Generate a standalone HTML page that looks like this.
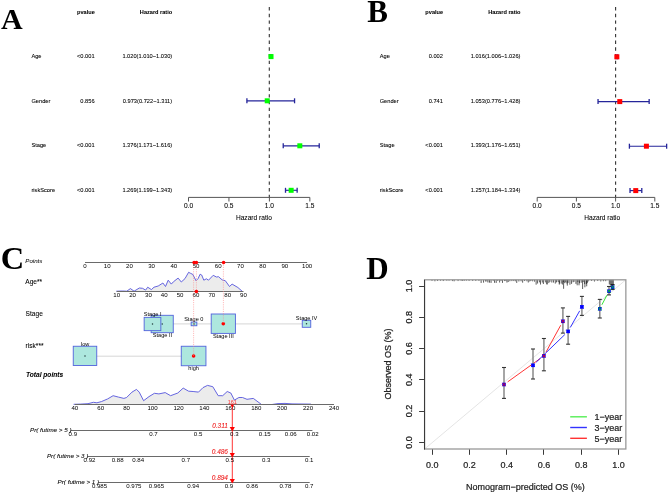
<!DOCTYPE html>
<html><head><meta charset="utf-8"><style>
html,body{margin:0;padding:0;background:#fff;width:668px;height:496px;overflow:hidden;}
svg{display:block;will-change:transform;}
</style></head><body>
<svg width="668" height="496" viewBox="0 0 668 496">
<rect x="0" y="0" width="668" height="496" fill="#fff"/>
<text x="1.00" y="28.80" font-family="Liberation Serif" font-size="30" text-anchor="start" font-weight="bold" font-style="normal" fill="#000">A</text>
<text x="94.80" y="13.70" font-family="Liberation Sans" font-size="5.6" text-anchor="end" font-weight="bold" font-style="normal" fill="#000" stroke="#000" stroke-width="0.050">pvalue</text>
<text x="172.20" y="13.70" font-family="Liberation Sans" font-size="5.6" text-anchor="end" font-weight="bold" font-style="normal" fill="#000" stroke="#000" stroke-width="0.050">Hazard ratio</text>
<line x1="269.30" y1="7.10" x2="269.30" y2="197.40" stroke="#333" stroke-width="1.1" stroke-dasharray="3.35 3.354"/>
<text x="31.40" y="57.70" font-family="Liberation Sans" font-size="5.7" text-anchor="start" font-weight="normal" font-style="normal" fill="#000" stroke="#000" stroke-width="0.070">Age</text>
<text x="94.60" y="57.70" font-family="Liberation Sans" font-size="5.7" text-anchor="end" font-weight="normal" font-style="normal" fill="#000" stroke="#000" stroke-width="0.070">&lt;0.001</text>
<text x="172.20" y="57.70" font-family="Liberation Sans" font-size="5.7" text-anchor="end" font-weight="normal" font-style="normal" fill="#000" stroke="#000" stroke-width="0.070">1.020(1.010−1.030)</text>
<line x1="270.21" y1="56.60" x2="271.83" y2="56.60" stroke="#25259a" stroke-width="1.15"/>
<line x1="270.21" y1="54.10" x2="270.21" y2="59.10" stroke="#25259a" stroke-width="1.3"/>
<line x1="271.83" y1="54.10" x2="271.83" y2="59.10" stroke="#25259a" stroke-width="1.3"/>
<rect x="268.52" y="54.10" width="5.00" height="5.00" fill="#00ff00" stroke="none" stroke-width="0"/>
<text x="31.40" y="102.80" font-family="Liberation Sans" font-size="5.7" text-anchor="start" font-weight="normal" font-style="normal" fill="#000" stroke="#000" stroke-width="0.070">Gender</text>
<text x="94.60" y="102.80" font-family="Liberation Sans" font-size="5.7" text-anchor="end" font-weight="normal" font-style="normal" fill="#000" stroke="#000" stroke-width="0.070">0.856</text>
<text x="172.20" y="102.80" font-family="Liberation Sans" font-size="5.7" text-anchor="end" font-weight="normal" font-style="normal" fill="#000" stroke="#000" stroke-width="0.070">0.973(0.722−1.311)</text>
<line x1="246.91" y1="100.80" x2="294.56" y2="100.80" stroke="#25259a" stroke-width="1.15"/>
<line x1="246.91" y1="98.30" x2="246.91" y2="103.30" stroke="#25259a" stroke-width="1.3"/>
<line x1="294.56" y1="98.30" x2="294.56" y2="103.30" stroke="#25259a" stroke-width="1.3"/>
<rect x="264.72" y="98.30" width="5.00" height="5.00" fill="#00ff00" stroke="none" stroke-width="0"/>
<text x="31.40" y="146.80" font-family="Liberation Sans" font-size="5.7" text-anchor="start" font-weight="normal" font-style="normal" fill="#000" stroke="#000" stroke-width="0.070">Stage</text>
<text x="94.60" y="146.80" font-family="Liberation Sans" font-size="5.7" text-anchor="end" font-weight="normal" font-style="normal" fill="#000" stroke="#000" stroke-width="0.070">&lt;0.001</text>
<text x="172.20" y="146.80" font-family="Liberation Sans" font-size="5.7" text-anchor="end" font-weight="normal" font-style="normal" fill="#000" stroke="#000" stroke-width="0.070">1.376(1.171−1.616)</text>
<line x1="283.23" y1="145.80" x2="319.23" y2="145.80" stroke="#25259a" stroke-width="1.15"/>
<line x1="283.23" y1="143.30" x2="283.23" y2="148.30" stroke="#25259a" stroke-width="1.3"/>
<line x1="319.23" y1="143.30" x2="319.23" y2="148.30" stroke="#25259a" stroke-width="1.3"/>
<rect x="297.32" y="143.30" width="5.00" height="5.00" fill="#00ff00" stroke="none" stroke-width="0"/>
<text x="31.40" y="191.80" font-family="Liberation Sans" font-size="5.7" text-anchor="start" font-weight="normal" font-style="normal" fill="#000" stroke="#000" stroke-width="0.070">riskScore</text>
<text x="94.60" y="191.80" font-family="Liberation Sans" font-size="5.7" text-anchor="end" font-weight="normal" font-style="normal" fill="#000" stroke="#000" stroke-width="0.070">&lt;0.001</text>
<text x="172.20" y="191.80" font-family="Liberation Sans" font-size="5.7" text-anchor="end" font-weight="normal" font-style="normal" fill="#000" stroke="#000" stroke-width="0.070">1.269(1.199−1.343)</text>
<line x1="285.50" y1="190.30" x2="297.15" y2="190.30" stroke="#25259a" stroke-width="1.15"/>
<line x1="285.50" y1="187.80" x2="285.50" y2="192.80" stroke="#25259a" stroke-width="1.3"/>
<line x1="297.15" y1="187.80" x2="297.15" y2="192.80" stroke="#25259a" stroke-width="1.3"/>
<rect x="288.66" y="187.80" width="5.00" height="5.00" fill="#00ff00" stroke="none" stroke-width="0"/>
<line x1="188.50" y1="197.40" x2="309.85" y2="197.40" stroke="#555" stroke-width="1.0"/>
<line x1="188.50" y1="197.40" x2="188.50" y2="201.50" stroke="#555" stroke-width="1.0"/>
<text x="188.50" y="207.90" font-family="Liberation Sans" font-size="6.6" text-anchor="middle" font-weight="normal" font-style="normal" fill="#000" stroke="#000" stroke-width="0.070">0.0</text>
<line x1="228.95" y1="197.40" x2="228.95" y2="201.50" stroke="#555" stroke-width="1.0"/>
<text x="228.95" y="207.90" font-family="Liberation Sans" font-size="6.6" text-anchor="middle" font-weight="normal" font-style="normal" fill="#000" stroke="#000" stroke-width="0.070">0.5</text>
<line x1="269.40" y1="197.40" x2="269.40" y2="201.50" stroke="#555" stroke-width="1.0"/>
<text x="269.40" y="207.90" font-family="Liberation Sans" font-size="6.6" text-anchor="middle" font-weight="normal" font-style="normal" fill="#000" stroke="#000" stroke-width="0.070">1.0</text>
<line x1="309.85" y1="197.40" x2="309.85" y2="201.50" stroke="#555" stroke-width="1.0"/>
<text x="309.85" y="207.90" font-family="Liberation Sans" font-size="6.6" text-anchor="middle" font-weight="normal" font-style="normal" fill="#000" stroke="#000" stroke-width="0.070">1.5</text>
<text x="253.90" y="219.90" font-family="Liberation Sans" font-size="6.6" text-anchor="middle" font-weight="normal" font-style="normal" fill="#000" stroke="#000" stroke-width="0.070">Hazard ratio</text>
<text x="367.30" y="21.50" font-family="Liberation Serif" font-size="31" text-anchor="start" font-weight="bold" font-style="normal" fill="#000">B</text>
<text x="443.10" y="13.70" font-family="Liberation Sans" font-size="5.6" text-anchor="end" font-weight="bold" font-style="normal" fill="#000" stroke="#000" stroke-width="0.050">pvalue</text>
<text x="520.50" y="13.70" font-family="Liberation Sans" font-size="5.6" text-anchor="end" font-weight="bold" font-style="normal" fill="#000" stroke="#000" stroke-width="0.050">Hazard ratio</text>
<line x1="615.60" y1="7.10" x2="615.60" y2="197.40" stroke="#333" stroke-width="1.1" stroke-dasharray="3.35 3.354"/>
<text x="379.70" y="57.70" font-family="Liberation Sans" font-size="5.7" text-anchor="start" font-weight="normal" font-style="normal" fill="#000" stroke="#000" stroke-width="0.070">Age</text>
<text x="442.90" y="57.70" font-family="Liberation Sans" font-size="5.7" text-anchor="end" font-weight="normal" font-style="normal" fill="#000" stroke="#000" stroke-width="0.070">0.002</text>
<text x="520.50" y="57.70" font-family="Liberation Sans" font-size="5.7" text-anchor="end" font-weight="normal" font-style="normal" fill="#000" stroke="#000" stroke-width="0.070">1.016(1.006−1.026)</text>
<line x1="616.07" y1="56.80" x2="617.64" y2="56.80" stroke="#25259a" stroke-width="1.15"/>
<line x1="616.07" y1="54.30" x2="616.07" y2="59.30" stroke="#25259a" stroke-width="1.3"/>
<line x1="617.64" y1="54.30" x2="617.64" y2="59.30" stroke="#25259a" stroke-width="1.3"/>
<rect x="614.35" y="54.30" width="5.00" height="5.00" fill="#ff0000" stroke="none" stroke-width="0"/>
<text x="379.70" y="102.80" font-family="Liberation Sans" font-size="5.7" text-anchor="start" font-weight="normal" font-style="normal" fill="#000" stroke="#000" stroke-width="0.070">Gender</text>
<text x="442.90" y="102.80" font-family="Liberation Sans" font-size="5.7" text-anchor="end" font-weight="normal" font-style="normal" fill="#000" stroke="#000" stroke-width="0.070">0.741</text>
<text x="520.50" y="102.80" font-family="Liberation Sans" font-size="5.7" text-anchor="end" font-weight="normal" font-style="normal" fill="#000" stroke="#000" stroke-width="0.070">1.053(0.776−1.428)</text>
<line x1="598.04" y1="101.60" x2="649.16" y2="101.60" stroke="#25259a" stroke-width="1.15"/>
<line x1="598.04" y1="99.10" x2="598.04" y2="104.10" stroke="#25259a" stroke-width="1.3"/>
<line x1="649.16" y1="99.10" x2="649.16" y2="104.10" stroke="#25259a" stroke-width="1.3"/>
<rect x="617.26" y="99.10" width="5.00" height="5.00" fill="#ff0000" stroke="none" stroke-width="0"/>
<text x="379.70" y="146.80" font-family="Liberation Sans" font-size="5.7" text-anchor="start" font-weight="normal" font-style="normal" fill="#000" stroke="#000" stroke-width="0.070">Stage</text>
<text x="442.90" y="146.80" font-family="Liberation Sans" font-size="5.7" text-anchor="end" font-weight="normal" font-style="normal" fill="#000" stroke="#000" stroke-width="0.070">&lt;0.001</text>
<text x="520.50" y="146.80" font-family="Liberation Sans" font-size="5.7" text-anchor="end" font-weight="normal" font-style="normal" fill="#000" stroke="#000" stroke-width="0.070">1.393(1.176−1.651)</text>
<line x1="629.40" y1="146.20" x2="666.64" y2="146.20" stroke="#25259a" stroke-width="1.15"/>
<line x1="629.40" y1="143.70" x2="629.40" y2="148.70" stroke="#25259a" stroke-width="1.3"/>
<line x1="666.64" y1="143.70" x2="666.64" y2="148.70" stroke="#25259a" stroke-width="1.3"/>
<rect x="643.91" y="143.70" width="5.00" height="5.00" fill="#ff0000" stroke="none" stroke-width="0"/>
<text x="379.70" y="191.80" font-family="Liberation Sans" font-size="5.7" text-anchor="start" font-weight="normal" font-style="normal" fill="#000" stroke="#000" stroke-width="0.070">riskScore</text>
<text x="442.90" y="191.80" font-family="Liberation Sans" font-size="5.7" text-anchor="end" font-weight="normal" font-style="normal" fill="#000" stroke="#000" stroke-width="0.070">&lt;0.001</text>
<text x="520.50" y="191.80" font-family="Liberation Sans" font-size="5.7" text-anchor="end" font-weight="normal" font-style="normal" fill="#000" stroke="#000" stroke-width="0.070">1.257(1.184−1.334)</text>
<line x1="630.03" y1="190.60" x2="641.79" y2="190.60" stroke="#25259a" stroke-width="1.15"/>
<line x1="630.03" y1="188.10" x2="630.03" y2="193.10" stroke="#25259a" stroke-width="1.3"/>
<line x1="641.79" y1="188.10" x2="641.79" y2="193.10" stroke="#25259a" stroke-width="1.3"/>
<rect x="633.25" y="188.10" width="5.00" height="5.00" fill="#ff0000" stroke="none" stroke-width="0"/>
<line x1="537.20" y1="197.40" x2="654.80" y2="197.40" stroke="#555" stroke-width="1.0"/>
<line x1="537.20" y1="197.40" x2="537.20" y2="201.50" stroke="#555" stroke-width="1.0"/>
<text x="537.20" y="207.90" font-family="Liberation Sans" font-size="6.6" text-anchor="middle" font-weight="normal" font-style="normal" fill="#000" stroke="#000" stroke-width="0.070">0.0</text>
<line x1="576.40" y1="197.40" x2="576.40" y2="201.50" stroke="#555" stroke-width="1.0"/>
<text x="576.40" y="207.90" font-family="Liberation Sans" font-size="6.6" text-anchor="middle" font-weight="normal" font-style="normal" fill="#000" stroke="#000" stroke-width="0.070">0.5</text>
<line x1="615.60" y1="197.40" x2="615.60" y2="201.50" stroke="#555" stroke-width="1.0"/>
<text x="615.60" y="207.90" font-family="Liberation Sans" font-size="6.6" text-anchor="middle" font-weight="normal" font-style="normal" fill="#000" stroke="#000" stroke-width="0.070">1.0</text>
<line x1="654.80" y1="197.40" x2="654.80" y2="201.50" stroke="#555" stroke-width="1.0"/>
<text x="654.80" y="207.90" font-family="Liberation Sans" font-size="6.6" text-anchor="middle" font-weight="normal" font-style="normal" fill="#000" stroke="#000" stroke-width="0.070">1.5</text>
<text x="602.20" y="219.90" font-family="Liberation Sans" font-size="6.6" text-anchor="middle" font-weight="normal" font-style="normal" fill="#000" stroke="#000" stroke-width="0.070">Hazard ratio</text>
<text x="0.80" y="269.00" font-family="Liberation Serif" font-size="32.5" text-anchor="start" font-weight="bold" font-style="normal" fill="#000">C</text>
<text x="25.30" y="263.00" font-family="Liberation Sans" font-size="6.15" text-anchor="start" font-weight="normal" font-style="italic" fill="#000" stroke="#000" stroke-width="0.030">Points</text>
<text x="25.30" y="284.00" font-family="Liberation Sans" font-size="6.6" text-anchor="start" font-weight="normal" font-style="normal" fill="#000" stroke="#000" stroke-width="0.070">Age**</text>
<text x="25.60" y="315.50" font-family="Liberation Sans" font-size="6.6" text-anchor="start" font-weight="normal" font-style="normal" fill="#000" stroke="#000" stroke-width="0.070">Stage</text>
<text x="25.60" y="347.80" font-family="Liberation Sans" font-size="6.6" text-anchor="start" font-weight="normal" font-style="normal" fill="#000" stroke="#000" stroke-width="0.070">risk***</text>
<text x="26.00" y="377.20" font-family="Liberation Sans" font-size="6.6" text-anchor="start" font-weight="bold" font-style="italic" fill="#000" stroke="#000" stroke-width="0.070">Total points</text>
<line x1="85.00" y1="262.50" x2="307.10" y2="262.50" stroke="#6a6a6a" stroke-width="1.0"/>
<text x="85.00" y="267.90" font-family="Liberation Sans" font-size="6.1" text-anchor="middle" font-weight="normal" font-style="normal" fill="#000" stroke="#000" stroke-width="0.000">0</text>
<text x="107.21" y="267.90" font-family="Liberation Sans" font-size="6.1" text-anchor="middle" font-weight="normal" font-style="normal" fill="#000" stroke="#000" stroke-width="0.000">10</text>
<text x="129.42" y="267.90" font-family="Liberation Sans" font-size="6.1" text-anchor="middle" font-weight="normal" font-style="normal" fill="#000" stroke="#000" stroke-width="0.000">20</text>
<text x="151.63" y="267.90" font-family="Liberation Sans" font-size="6.1" text-anchor="middle" font-weight="normal" font-style="normal" fill="#000" stroke="#000" stroke-width="0.000">30</text>
<text x="173.84" y="267.90" font-family="Liberation Sans" font-size="6.1" text-anchor="middle" font-weight="normal" font-style="normal" fill="#000" stroke="#000" stroke-width="0.000">40</text>
<text x="196.05" y="267.90" font-family="Liberation Sans" font-size="6.1" text-anchor="middle" font-weight="normal" font-style="normal" fill="#000" stroke="#000" stroke-width="0.000">50</text>
<text x="218.26" y="267.90" font-family="Liberation Sans" font-size="6.1" text-anchor="middle" font-weight="normal" font-style="normal" fill="#000" stroke="#000" stroke-width="0.000">60</text>
<text x="240.47" y="267.90" font-family="Liberation Sans" font-size="6.1" text-anchor="middle" font-weight="normal" font-style="normal" fill="#000" stroke="#000" stroke-width="0.000">70</text>
<text x="262.68" y="267.90" font-family="Liberation Sans" font-size="6.1" text-anchor="middle" font-weight="normal" font-style="normal" fill="#000" stroke="#000" stroke-width="0.000">80</text>
<text x="284.89" y="267.90" font-family="Liberation Sans" font-size="6.1" text-anchor="middle" font-weight="normal" font-style="normal" fill="#000" stroke="#000" stroke-width="0.000">90</text>
<text x="307.10" y="267.90" font-family="Liberation Sans" font-size="6.1" text-anchor="middle" font-weight="normal" font-style="normal" fill="#000" stroke="#000" stroke-width="0.000">100</text>
<polygon points="116.3,291.2 122.6,291.0 126.8,291.2 130.4,288.6 134.1,291.2 139.3,288.0 142.5,288.3 145.6,290.1 147.7,287.2 151.4,289.6 154.0,287.2 158.2,286.0 162.9,283.0 165.5,286.5 168.2,280.2 171.3,284.1 173.4,281.8 178.1,278.1 181.3,282.0 185.0,278.6 188.6,272.3 190.7,273.4 192.8,274.4 196.0,280.7 198.1,278.6 200.1,274.2 201.7,275.0 203.8,280.2 206.4,278.8 208.5,280.2 213.2,275.3 216.4,277.0 218.5,276.7 222.2,279.9 225.3,280.7 229.5,286.5 232.1,284.1 237.9,287.5 242.1,291.2" fill="#ececec" stroke="none"/>
<polyline points="116.3,291.2 122.6,291.0 126.8,291.2 130.4,288.6 134.1,291.2 139.3,288.0 142.5,288.3 145.6,290.1 147.7,287.2 151.4,289.6 154.0,287.2 158.2,286.0 162.9,283.0 165.5,286.5 168.2,280.2 171.3,284.1 173.4,281.8 178.1,278.1 181.3,282.0 185.0,278.6 188.6,272.3 190.7,273.4 192.8,274.4 196.0,280.7 198.1,278.6 200.1,274.2 201.7,275.0 203.8,280.2 206.4,278.8 208.5,280.2 213.2,275.3 216.4,277.0 218.5,276.7 222.2,279.9 225.3,280.7 229.5,286.5 232.1,284.1 237.9,287.5 242.1,291.2" fill="none" stroke="#5555dd" stroke-width="0.9"/>
<line x1="116.70" y1="291.50" x2="243.50" y2="291.50" stroke="#6a6a6a" stroke-width="1.0"/>
<text x="116.70" y="296.50" font-family="Liberation Sans" font-size="6.1" text-anchor="middle" font-weight="normal" font-style="normal" fill="#000" stroke="#000" stroke-width="0.000">10</text>
<text x="132.55" y="296.50" font-family="Liberation Sans" font-size="6.1" text-anchor="middle" font-weight="normal" font-style="normal" fill="#000" stroke="#000" stroke-width="0.000">20</text>
<text x="148.40" y="296.50" font-family="Liberation Sans" font-size="6.1" text-anchor="middle" font-weight="normal" font-style="normal" fill="#000" stroke="#000" stroke-width="0.000">30</text>
<text x="164.25" y="296.50" font-family="Liberation Sans" font-size="6.1" text-anchor="middle" font-weight="normal" font-style="normal" fill="#000" stroke="#000" stroke-width="0.000">40</text>
<text x="180.10" y="296.50" font-family="Liberation Sans" font-size="6.1" text-anchor="middle" font-weight="normal" font-style="normal" fill="#000" stroke="#000" stroke-width="0.000">50</text>
<text x="195.95" y="296.50" font-family="Liberation Sans" font-size="6.1" text-anchor="middle" font-weight="normal" font-style="normal" fill="#000" stroke="#000" stroke-width="0.000">60</text>
<text x="211.80" y="296.50" font-family="Liberation Sans" font-size="6.1" text-anchor="middle" font-weight="normal" font-style="normal" fill="#000" stroke="#000" stroke-width="0.000">70</text>
<text x="227.65" y="296.50" font-family="Liberation Sans" font-size="6.1" text-anchor="middle" font-weight="normal" font-style="normal" fill="#000" stroke="#000" stroke-width="0.000">80</text>
<text x="243.50" y="296.50" font-family="Liberation Sans" font-size="6.1" text-anchor="middle" font-weight="normal" font-style="normal" fill="#000" stroke="#000" stroke-width="0.000">90</text>
<line x1="152.60" y1="323.90" x2="306.50" y2="323.90" stroke="#cccccc" stroke-width="0.8"/>
<rect x="151.15" y="315.30" width="22.10" height="17.40" fill="#ade7de" stroke="#5062dc" stroke-width="0.9"/>
<circle cx="162.20" cy="324.00" r="0.75" fill="#1f3a3a"/>
<rect x="144.15" y="317.35" width="16.70" height="13.30" fill="#ade7de" stroke="#5062dc" stroke-width="0.9"/>
<circle cx="152.50" cy="324.00" r="0.75" fill="#1f3a3a"/>
<rect x="191.15" y="322.05" width="5.70" height="3.70" fill="#ade7de" stroke="#5062dc" stroke-width="0.9"/>
<circle cx="194.00" cy="323.90" r="0.75" fill="#1f3a3a"/>
<rect x="211.20" y="314.00" width="24.20" height="19.40" fill="#ade7de" stroke="#5062dc" stroke-width="0.9"/>
<circle cx="223.30" cy="323.70" r="1.8" fill="#ff0000"/>
<rect x="302.25" y="320.30" width="8.50" height="7.00" fill="#ade7de" stroke="#5062dc" stroke-width="0.9"/>
<circle cx="306.50" cy="323.80" r="0.75" fill="#1f3a3a"/>
<text x="152.70" y="316.30" font-family="Liberation Sans" font-size="5.6" text-anchor="middle" font-weight="normal" font-style="normal" fill="#000" stroke="#000" stroke-width="0.000">Stage I</text>
<text x="162.40" y="336.90" font-family="Liberation Sans" font-size="5.6" text-anchor="middle" font-weight="normal" font-style="normal" fill="#000" stroke="#000" stroke-width="0.000">Stage II</text>
<text x="193.80" y="320.60" font-family="Liberation Sans" font-size="5.6" text-anchor="middle" font-weight="normal" font-style="normal" fill="#000" stroke="#000" stroke-width="0.000">Stage 0</text>
<text x="223.30" y="337.50" font-family="Liberation Sans" font-size="5.6" text-anchor="middle" font-weight="normal" font-style="normal" fill="#000" stroke="#000" stroke-width="0.000">Stage III</text>
<text x="306.60" y="319.60" font-family="Liberation Sans" font-size="5.6" text-anchor="middle" font-weight="normal" font-style="normal" fill="#000" stroke="#000" stroke-width="0.000">Stage IV</text>
<line x1="85.00" y1="356.20" x2="193.60" y2="356.20" stroke="#cccccc" stroke-width="0.8"/>
<rect x="73.25" y="346.25" width="23.50" height="19.30" fill="#ade7de" stroke="#5062dc" stroke-width="0.9"/>
<circle cx="85.00" cy="355.90" r="0.75" fill="#1f3a3a"/>
<rect x="181.25" y="346.25" width="24.70" height="19.50" fill="#ade7de" stroke="#5062dc" stroke-width="0.9"/>
<circle cx="193.60" cy="356.00" r="1.8" fill="#ff0000"/>
<text x="85.20" y="346.00" font-family="Liberation Sans" font-size="5.6" text-anchor="middle" font-weight="normal" font-style="normal" fill="#000" stroke="#000" stroke-width="0.000">low</text>
<text x="193.60" y="369.80" font-family="Liberation Sans" font-size="5.6" text-anchor="middle" font-weight="normal" font-style="normal" fill="#000" stroke="#000" stroke-width="0.000">high</text>
<line x1="193.60" y1="262.50" x2="193.60" y2="356.20" stroke="#ff8080" stroke-width="0.6" stroke-dasharray="1 1.2"/>
<line x1="196.40" y1="262.50" x2="196.40" y2="291.30" stroke="#ff8080" stroke-width="0.6" stroke-dasharray="1 1.2"/>
<line x1="223.40" y1="262.50" x2="223.40" y2="323.80" stroke="#ff8080" stroke-width="0.6" stroke-dasharray="1 1.2"/>
<circle cx="194.10" cy="262.50" r="1.8" fill="#ff0000"/>
<circle cx="196.40" cy="262.50" r="1.8" fill="#ff0000"/>
<circle cx="223.60" cy="262.50" r="1.8" fill="#ff0000"/>
<circle cx="196.4" cy="291.5" r="1.8" fill="#ff0000"/>
<polygon points="73.6,404.3 80.8,404.1 88.0,403.7 93.4,402.3 96.9,402.8 101.4,401.6 107.7,398.9 113.1,395.7 118.5,397.1 123.9,398.4 126.6,397.5 132.0,392.1 136.5,389.4 139.2,392.1 143.6,400.7 149.0,396.6 154.4,393.3 158.9,393.9 165.2,392.6 170.6,395.7 177.8,393.0 183.2,388.1 188.6,391.2 193.1,391.5 198.5,392.1 203.0,387.6 207.5,385.4 212.8,386.7 218.2,395.7 222.7,395.7 227.2,391.5 230.8,393.0 234.4,400.1 238.9,397.5 242.5,397.5 247.0,399.3 253.3,398.4 261.5,404.5 272.0,404.5 278.0,403.6 285.0,403.4 292.0,403.9 310.5,404.1 311.0,404.5" fill="#ececec" stroke="none"/>
<polyline points="73.6,404.3 80.8,404.1 88.0,403.7 93.4,402.3 96.9,402.8 101.4,401.6 107.7,398.9 113.1,395.7 118.5,397.1 123.9,398.4 126.6,397.5 132.0,392.1 136.5,389.4 139.2,392.1 143.6,400.7 149.0,396.6 154.4,393.3 158.9,393.9 165.2,392.6 170.6,395.7 177.8,393.0 183.2,388.1 188.6,391.2 193.1,391.5 198.5,392.1 203.0,387.6 207.5,385.4 212.8,386.7 218.2,395.7 222.7,395.7 227.2,391.5 230.8,393.0 234.4,400.1 238.9,397.5 242.5,397.5 247.0,399.3 253.3,398.4 261.5,404.5 272.0,404.5 278.0,403.6 285.0,403.4 292.0,403.9 310.5,404.1 311.0,404.5" fill="none" stroke="#5555dd" stroke-width="0.9"/>
<line x1="74.80" y1="404.50" x2="334.00" y2="404.50" stroke="#6a6a6a" stroke-width="1.0"/>
<text x="74.80" y="409.60" font-family="Liberation Sans" font-size="6.1" text-anchor="middle" font-weight="normal" font-style="normal" fill="#000" stroke="#000" stroke-width="0.000">40</text>
<text x="100.72" y="409.60" font-family="Liberation Sans" font-size="6.1" text-anchor="middle" font-weight="normal" font-style="normal" fill="#000" stroke="#000" stroke-width="0.000">60</text>
<text x="126.64" y="409.60" font-family="Liberation Sans" font-size="6.1" text-anchor="middle" font-weight="normal" font-style="normal" fill="#000" stroke="#000" stroke-width="0.000">80</text>
<text x="152.56" y="409.60" font-family="Liberation Sans" font-size="6.1" text-anchor="middle" font-weight="normal" font-style="normal" fill="#000" stroke="#000" stroke-width="0.000">100</text>
<text x="178.48" y="409.60" font-family="Liberation Sans" font-size="6.1" text-anchor="middle" font-weight="normal" font-style="normal" fill="#000" stroke="#000" stroke-width="0.000">120</text>
<text x="204.40" y="409.60" font-family="Liberation Sans" font-size="6.1" text-anchor="middle" font-weight="normal" font-style="normal" fill="#000" stroke="#000" stroke-width="0.000">140</text>
<text x="230.32" y="409.60" font-family="Liberation Sans" font-size="6.1" text-anchor="middle" font-weight="normal" font-style="normal" fill="#000" stroke="#000" stroke-width="0.000">160</text>
<text x="256.24" y="409.60" font-family="Liberation Sans" font-size="6.1" text-anchor="middle" font-weight="normal" font-style="normal" fill="#000" stroke="#000" stroke-width="0.000">180</text>
<text x="282.16" y="409.60" font-family="Liberation Sans" font-size="6.1" text-anchor="middle" font-weight="normal" font-style="normal" fill="#000" stroke="#000" stroke-width="0.000">200</text>
<text x="308.08" y="409.60" font-family="Liberation Sans" font-size="6.1" text-anchor="middle" font-weight="normal" font-style="normal" fill="#000" stroke="#000" stroke-width="0.000">220</text>
<text x="334.00" y="409.60" font-family="Liberation Sans" font-size="6.1" text-anchor="middle" font-weight="normal" font-style="normal" fill="#000" stroke="#000" stroke-width="0.000">240</text>
<line x1="232.30" y1="405.00" x2="232.30" y2="482.20" stroke="#ff0000" stroke-width="0.8"/>
<text x="232.30" y="403.60" font-family="Liberation Sans" font-size="5.6" text-anchor="middle" font-weight="normal" font-style="normal" fill="#ff3333" stroke="#ff3333" stroke-width="0.000">161</text>
<polygon points="230.30,404.50 234.30,404.50 232.30,407.70" fill="#ff0000"/>
<line x1="70.90" y1="430.50" x2="312.40" y2="430.50" stroke="#6a6a6a" stroke-width="1.0"/>
<text x="71.50" y="432.20" font-family="Liberation Sans" font-size="6.25" text-anchor="end" font-weight="normal" font-style="italic" fill="#000" stroke="#000" stroke-width="0.070">Pr( futime &gt; 5 )</text>
<text x="72.80" y="435.80" font-family="Liberation Sans" font-size="6.1" text-anchor="middle" font-weight="normal" font-style="normal" fill="#000" stroke="#000" stroke-width="0.000">0.9</text>
<text x="153.40" y="435.80" font-family="Liberation Sans" font-size="6.1" text-anchor="middle" font-weight="normal" font-style="normal" fill="#000" stroke="#000" stroke-width="0.000">0.7</text>
<text x="198.10" y="435.80" font-family="Liberation Sans" font-size="6.1" text-anchor="middle" font-weight="normal" font-style="normal" fill="#000" stroke="#000" stroke-width="0.000">0.5</text>
<text x="234.30" y="435.80" font-family="Liberation Sans" font-size="6.1" text-anchor="middle" font-weight="normal" font-style="normal" fill="#000" stroke="#000" stroke-width="0.000">0.3</text>
<text x="264.80" y="435.80" font-family="Liberation Sans" font-size="6.1" text-anchor="middle" font-weight="normal" font-style="normal" fill="#000" stroke="#000" stroke-width="0.000">0.15</text>
<text x="290.80" y="435.80" font-family="Liberation Sans" font-size="6.1" text-anchor="middle" font-weight="normal" font-style="normal" fill="#000" stroke="#000" stroke-width="0.000">0.06</text>
<text x="312.70" y="435.80" font-family="Liberation Sans" font-size="6.1" text-anchor="middle" font-weight="normal" font-style="normal" fill="#000" stroke="#000" stroke-width="0.000">0.02</text>
<polygon points="229.70,427.10 234.90,427.10 232.30,431.50" fill="#ff0000"/>
<text x="228.00" y="427.70" font-family="Liberation Sans" font-size="6.5" text-anchor="end" font-weight="normal" font-style="italic" fill="#ee1111" stroke="#ee1111" stroke-width="0.070">0.311</text>
<line x1="87.80" y1="456.50" x2="309.70" y2="456.50" stroke="#6a6a6a" stroke-width="1.0"/>
<text x="88.40" y="458.20" font-family="Liberation Sans" font-size="6.25" text-anchor="end" font-weight="normal" font-style="italic" fill="#000" stroke="#000" stroke-width="0.070">Pr( futime &gt; 3 )</text>
<text x="89.50" y="461.80" font-family="Liberation Sans" font-size="6.1" text-anchor="middle" font-weight="normal" font-style="normal" fill="#000" stroke="#000" stroke-width="0.000">0.92</text>
<text x="117.60" y="461.80" font-family="Liberation Sans" font-size="6.1" text-anchor="middle" font-weight="normal" font-style="normal" fill="#000" stroke="#000" stroke-width="0.000">0.88</text>
<text x="138.10" y="461.80" font-family="Liberation Sans" font-size="6.1" text-anchor="middle" font-weight="normal" font-style="normal" fill="#000" stroke="#000" stroke-width="0.000">0.84</text>
<text x="185.80" y="461.80" font-family="Liberation Sans" font-size="6.1" text-anchor="middle" font-weight="normal" font-style="normal" fill="#000" stroke="#000" stroke-width="0.000">0.7</text>
<text x="229.80" y="461.80" font-family="Liberation Sans" font-size="6.1" text-anchor="middle" font-weight="normal" font-style="normal" fill="#000" stroke="#000" stroke-width="0.000">0.5</text>
<text x="266.20" y="461.80" font-family="Liberation Sans" font-size="6.1" text-anchor="middle" font-weight="normal" font-style="normal" fill="#000" stroke="#000" stroke-width="0.000">0.3</text>
<text x="309.20" y="461.80" font-family="Liberation Sans" font-size="6.1" text-anchor="middle" font-weight="normal" font-style="normal" fill="#000" stroke="#000" stroke-width="0.000">0.1</text>
<polygon points="229.70,453.10 234.90,453.10 232.30,457.50" fill="#ff0000"/>
<text x="228.00" y="453.70" font-family="Liberation Sans" font-size="6.5" text-anchor="end" font-weight="normal" font-style="italic" fill="#ee1111" stroke="#ee1111" stroke-width="0.070">0.486</text>
<line x1="98.50" y1="482.50" x2="309.70" y2="482.50" stroke="#6a6a6a" stroke-width="1.0"/>
<text x="99.10" y="484.20" font-family="Liberation Sans" font-size="6.25" text-anchor="end" font-weight="normal" font-style="italic" fill="#000" stroke="#000" stroke-width="0.070">Pr( futime &gt; 1 )</text>
<text x="99.50" y="487.80" font-family="Liberation Sans" font-size="6.1" text-anchor="middle" font-weight="normal" font-style="normal" fill="#000" stroke="#000" stroke-width="0.000">0.985</text>
<text x="133.80" y="487.80" font-family="Liberation Sans" font-size="6.1" text-anchor="middle" font-weight="normal" font-style="normal" fill="#000" stroke="#000" stroke-width="0.000">0.975</text>
<text x="156.40" y="487.80" font-family="Liberation Sans" font-size="6.1" text-anchor="middle" font-weight="normal" font-style="normal" fill="#000" stroke="#000" stroke-width="0.000">0.965</text>
<text x="193.20" y="487.80" font-family="Liberation Sans" font-size="6.1" text-anchor="middle" font-weight="normal" font-style="normal" fill="#000" stroke="#000" stroke-width="0.000">0.94</text>
<text x="228.90" y="487.80" font-family="Liberation Sans" font-size="6.1" text-anchor="middle" font-weight="normal" font-style="normal" fill="#000" stroke="#000" stroke-width="0.000">0.9</text>
<text x="252.20" y="487.80" font-family="Liberation Sans" font-size="6.1" text-anchor="middle" font-weight="normal" font-style="normal" fill="#000" stroke="#000" stroke-width="0.000">0.86</text>
<text x="285.40" y="487.80" font-family="Liberation Sans" font-size="6.1" text-anchor="middle" font-weight="normal" font-style="normal" fill="#000" stroke="#000" stroke-width="0.000">0.78</text>
<text x="309.20" y="487.80" font-family="Liberation Sans" font-size="6.1" text-anchor="middle" font-weight="normal" font-style="normal" fill="#000" stroke="#000" stroke-width="0.000">0.7</text>
<polygon points="229.70,479.10 234.90,479.10 232.30,483.50" fill="#ff0000"/>
<text x="228.00" y="479.70" font-family="Liberation Sans" font-size="6.5" text-anchor="end" font-weight="normal" font-style="italic" fill="#ee1111" stroke="#ee1111" stroke-width="0.070">0.894</text>
<text x="366.30" y="278.50" font-family="Liberation Serif" font-size="31" text-anchor="start" font-weight="bold" font-style="normal" fill="#000">D</text>
<line x1="424.60" y1="449.00" x2="625.85" y2="279.80" stroke="#dddddd" stroke-width="0.8"/>
<line x1="419.10" y1="442.50" x2="424.60" y2="442.50" stroke="#3a3a3a" stroke-width="1.0"/>
<text x="0" y="0" transform="translate(412.2,442.40) rotate(-90)" font-family="Liberation Sans" font-size="9.0" text-anchor="middle" fill="#222" stroke="#222" stroke-width="0.25">0.0</text>
<line x1="432.50" y1="449.00" x2="432.50" y2="454.80" stroke="#3a3a3a" stroke-width="1.0"/>
<text x="432.20" y="468.30" font-family="Liberation Sans" font-size="9.0" text-anchor="middle" font-weight="normal" font-style="normal" fill="#222" stroke="#222" stroke-width="0.216">0.0</text>
<line x1="419.10" y1="411.50" x2="424.60" y2="411.50" stroke="#3a3a3a" stroke-width="1.0"/>
<text x="0" y="0" transform="translate(412.2,411.12) rotate(-90)" font-family="Liberation Sans" font-size="9.0" text-anchor="middle" fill="#222" stroke="#222" stroke-width="0.25">0.2</text>
<line x1="469.50" y1="449.00" x2="469.50" y2="454.80" stroke="#3a3a3a" stroke-width="1.0"/>
<text x="469.44" y="468.30" font-family="Liberation Sans" font-size="9.0" text-anchor="middle" font-weight="normal" font-style="normal" fill="#222" stroke="#222" stroke-width="0.216">0.2</text>
<line x1="419.10" y1="379.50" x2="424.60" y2="379.50" stroke="#3a3a3a" stroke-width="1.0"/>
<text x="0" y="0" transform="translate(412.2,379.84) rotate(-90)" font-family="Liberation Sans" font-size="9.0" text-anchor="middle" fill="#222" stroke="#222" stroke-width="0.25">0.4</text>
<line x1="506.50" y1="449.00" x2="506.50" y2="454.80" stroke="#3a3a3a" stroke-width="1.0"/>
<text x="506.68" y="468.30" font-family="Liberation Sans" font-size="9.0" text-anchor="middle" font-weight="normal" font-style="normal" fill="#222" stroke="#222" stroke-width="0.216">0.4</text>
<line x1="419.10" y1="348.50" x2="424.60" y2="348.50" stroke="#3a3a3a" stroke-width="1.0"/>
<text x="0" y="0" transform="translate(412.2,348.56) rotate(-90)" font-family="Liberation Sans" font-size="9.0" text-anchor="middle" fill="#222" stroke="#222" stroke-width="0.25">0.6</text>
<line x1="543.50" y1="449.00" x2="543.50" y2="454.80" stroke="#3a3a3a" stroke-width="1.0"/>
<text x="543.92" y="468.30" font-family="Liberation Sans" font-size="9.0" text-anchor="middle" font-weight="normal" font-style="normal" fill="#222" stroke="#222" stroke-width="0.216">0.6</text>
<line x1="419.10" y1="317.50" x2="424.60" y2="317.50" stroke="#3a3a3a" stroke-width="1.0"/>
<text x="0" y="0" transform="translate(412.2,317.28) rotate(-90)" font-family="Liberation Sans" font-size="9.0" text-anchor="middle" fill="#222" stroke="#222" stroke-width="0.25">0.8</text>
<line x1="581.50" y1="449.00" x2="581.50" y2="454.80" stroke="#3a3a3a" stroke-width="1.0"/>
<text x="581.16" y="468.30" font-family="Liberation Sans" font-size="9.0" text-anchor="middle" font-weight="normal" font-style="normal" fill="#222" stroke="#222" stroke-width="0.216">0.8</text>
<line x1="419.10" y1="286.50" x2="424.60" y2="286.50" stroke="#3a3a3a" stroke-width="1.0"/>
<text x="0" y="0" transform="translate(412.2,286.00) rotate(-90)" font-family="Liberation Sans" font-size="9.0" text-anchor="middle" fill="#222" stroke="#222" stroke-width="0.25">1.0</text>
<line x1="618.50" y1="449.00" x2="618.50" y2="454.80" stroke="#3a3a3a" stroke-width="1.0"/>
<text x="618.40" y="468.30" font-family="Liberation Sans" font-size="9.0" text-anchor="middle" font-weight="normal" font-style="normal" fill="#222" stroke="#222" stroke-width="0.216">1.0</text>
<text x="0" y="0" transform="translate(391.2,364) rotate(-90)" font-family="Liberation Sans" font-size="9.0" text-anchor="middle" fill="#222" stroke="#222" stroke-width="0.25">Observed OS (%)</text>
<text x="525.30" y="489.60" font-family="Liberation Sans" font-size="9.0" text-anchor="middle" font-weight="normal" font-style="normal" fill="#222" stroke="#222" stroke-width="0.216">Nomogram−predicted OS (%)</text>
<line x1="507.66" y1="381.88" x2="540.24" y2="358.52" stroke="#ff0000" stroke-width="0.8"/>
<line x1="546.07" y1="351.96" x2="560.73" y2="325.24" stroke="#ff0000" stroke-width="0.8"/>
<line x1="536.24" y1="362.17" x2="564.86" y2="334.53" stroke="#0000ff" stroke-width="0.8"/>
<line x1="570.31" y1="327.48" x2="579.69" y2="310.82" stroke="#0000ff" stroke-width="0.8"/>
<line x1="601.88" y1="304.81" x2="606.92" y2="295.19" stroke="#00dd00" stroke-width="0.8"/>
<line x1="504.00" y1="367.50" x2="504.00" y2="398.40" stroke="#808080" stroke-width="1.4"/>
<line x1="502.00" y1="367.50" x2="506.00" y2="367.50" stroke="#333" stroke-width="1.1"/>
<line x1="502.00" y1="398.40" x2="506.00" y2="398.40" stroke="#333" stroke-width="1.1"/>
<line x1="543.90" y1="338.50" x2="543.90" y2="370.80" stroke="#808080" stroke-width="1.4"/>
<line x1="541.90" y1="338.50" x2="545.90" y2="338.50" stroke="#333" stroke-width="1.1"/>
<line x1="541.90" y1="370.80" x2="545.90" y2="370.80" stroke="#333" stroke-width="1.1"/>
<line x1="562.90" y1="307.90" x2="562.90" y2="333.10" stroke="#808080" stroke-width="1.4"/>
<line x1="560.90" y1="307.90" x2="564.90" y2="307.90" stroke="#333" stroke-width="1.1"/>
<line x1="560.90" y1="333.10" x2="564.90" y2="333.10" stroke="#333" stroke-width="1.1"/>
<line x1="533.00" y1="349.00" x2="533.00" y2="379.00" stroke="#808080" stroke-width="1.4"/>
<line x1="531.00" y1="349.00" x2="535.00" y2="349.00" stroke="#333" stroke-width="1.1"/>
<line x1="531.00" y1="379.00" x2="535.00" y2="379.00" stroke="#333" stroke-width="1.1"/>
<line x1="568.10" y1="316.40" x2="568.10" y2="344.20" stroke="#808080" stroke-width="1.4"/>
<line x1="566.10" y1="316.40" x2="570.10" y2="316.40" stroke="#333" stroke-width="1.1"/>
<line x1="566.10" y1="344.20" x2="570.10" y2="344.20" stroke="#333" stroke-width="1.1"/>
<line x1="581.90" y1="296.40" x2="581.90" y2="315.40" stroke="#808080" stroke-width="1.4"/>
<line x1="579.90" y1="296.40" x2="583.90" y2="296.40" stroke="#333" stroke-width="1.1"/>
<line x1="579.90" y1="315.40" x2="583.90" y2="315.40" stroke="#333" stroke-width="1.1"/>
<line x1="599.80" y1="299.40" x2="599.80" y2="318.00" stroke="#808080" stroke-width="1.4"/>
<line x1="597.80" y1="299.40" x2="601.80" y2="299.40" stroke="#333" stroke-width="1.1"/>
<line x1="597.80" y1="318.00" x2="601.80" y2="318.00" stroke="#333" stroke-width="1.1"/>
<line x1="609.00" y1="286.50" x2="609.00" y2="294.90" stroke="#808080" stroke-width="1.4"/>
<line x1="607.00" y1="286.50" x2="611.00" y2="286.50" stroke="#333" stroke-width="1.1"/>
<line x1="607.00" y1="294.90" x2="611.00" y2="294.90" stroke="#333" stroke-width="1.1"/>
<line x1="612.60" y1="284.50" x2="612.60" y2="289.50" stroke="#808080" stroke-width="1.4"/>
<line x1="610.60" y1="284.50" x2="614.60" y2="284.50" stroke="#333" stroke-width="1.1"/>
<line x1="610.60" y1="289.50" x2="614.60" y2="289.50" stroke="#333" stroke-width="1.1"/>
<rect x="502.20" y="382.70" width="3.60" height="3.60" fill="#0000ff" stroke="none" stroke-width="0"/>
<line x1="502.40" y1="382.90" x2="505.60" y2="386.10" stroke="#ff0000" stroke-width="0.8"/>
<line x1="502.40" y1="386.10" x2="505.60" y2="382.90" stroke="#ff0000" stroke-width="0.8"/>
<rect x="542.10" y="354.10" width="3.60" height="3.60" fill="#0000ff" stroke="none" stroke-width="0"/>
<line x1="542.30" y1="354.30" x2="545.50" y2="357.50" stroke="#ff0000" stroke-width="0.8"/>
<line x1="542.30" y1="357.50" x2="545.50" y2="354.30" stroke="#ff0000" stroke-width="0.8"/>
<rect x="561.10" y="319.50" width="3.60" height="3.60" fill="#0000ff" stroke="none" stroke-width="0"/>
<line x1="561.30" y1="319.70" x2="564.50" y2="322.90" stroke="#ff0000" stroke-width="0.8"/>
<line x1="561.30" y1="322.90" x2="564.50" y2="319.70" stroke="#ff0000" stroke-width="0.8"/>
<rect x="531.20" y="363.50" width="3.60" height="3.60" fill="#0000ff" stroke="none" stroke-width="0"/>
<line x1="531.40" y1="363.70" x2="534.60" y2="366.90" stroke="#0000ff" stroke-width="0.8"/>
<line x1="531.40" y1="366.90" x2="534.60" y2="363.70" stroke="#0000ff" stroke-width="0.8"/>
<rect x="566.30" y="329.60" width="3.60" height="3.60" fill="#0000ff" stroke="none" stroke-width="0"/>
<line x1="566.50" y1="329.80" x2="569.70" y2="333.00" stroke="#0000ff" stroke-width="0.8"/>
<line x1="566.50" y1="333.00" x2="569.70" y2="329.80" stroke="#0000ff" stroke-width="0.8"/>
<rect x="580.10" y="305.10" width="3.60" height="3.60" fill="#0000ff" stroke="none" stroke-width="0"/>
<line x1="580.30" y1="305.30" x2="583.50" y2="308.50" stroke="#0000ff" stroke-width="0.8"/>
<line x1="580.30" y1="308.50" x2="583.50" y2="305.30" stroke="#0000ff" stroke-width="0.8"/>
<rect x="598.00" y="307.00" width="3.60" height="3.60" fill="#0000ff" stroke="none" stroke-width="0"/>
<line x1="598.20" y1="307.20" x2="601.40" y2="310.40" stroke="#00dd00" stroke-width="0.8"/>
<line x1="598.20" y1="310.40" x2="601.40" y2="307.20" stroke="#00dd00" stroke-width="0.8"/>
<rect x="607.20" y="289.40" width="3.60" height="3.60" fill="#0000ff" stroke="none" stroke-width="0"/>
<line x1="607.40" y1="289.60" x2="610.60" y2="292.80" stroke="#00dd00" stroke-width="0.8"/>
<line x1="607.40" y1="292.80" x2="610.60" y2="289.60" stroke="#00dd00" stroke-width="0.8"/>
<rect x="610.80" y="285.40" width="3.60" height="3.60" fill="#0000ff" stroke="none" stroke-width="0"/>
<line x1="611.00" y1="285.60" x2="614.20" y2="288.80" stroke="#00dd00" stroke-width="0.8"/>
<line x1="611.00" y1="288.80" x2="614.20" y2="285.60" stroke="#00dd00" stroke-width="0.8"/>
<line x1="432.00" y1="279.80" x2="432.00" y2="280.92" stroke="#1a1a1a" stroke-width="0.7"/>
<line x1="434.90" y1="279.80" x2="434.90" y2="281.25" stroke="#1a1a1a" stroke-width="0.7"/>
<line x1="437.56" y1="279.80" x2="437.56" y2="280.96" stroke="#1a1a1a" stroke-width="0.7"/>
<line x1="440.53" y1="279.80" x2="440.53" y2="280.73" stroke="#1a1a1a" stroke-width="0.7"/>
<line x1="443.31" y1="279.80" x2="443.31" y2="281.04" stroke="#1a1a1a" stroke-width="0.7"/>
<line x1="446.79" y1="279.80" x2="446.79" y2="280.67" stroke="#1a1a1a" stroke-width="0.7"/>
<line x1="449.05" y1="279.80" x2="449.05" y2="280.66" stroke="#1a1a1a" stroke-width="0.7"/>
<line x1="452.58" y1="279.80" x2="452.58" y2="281.09" stroke="#1a1a1a" stroke-width="0.7"/>
<line x1="454.18" y1="279.80" x2="454.18" y2="281.29" stroke="#1a1a1a" stroke-width="0.7"/>
<line x1="458.09" y1="279.80" x2="458.09" y2="281.06" stroke="#1a1a1a" stroke-width="0.7"/>
<line x1="461.13" y1="279.80" x2="461.13" y2="280.71" stroke="#1a1a1a" stroke-width="0.7"/>
<line x1="462.67" y1="279.80" x2="462.67" y2="280.97" stroke="#1a1a1a" stroke-width="0.7"/>
<line x1="464.32" y1="279.80" x2="464.32" y2="280.73" stroke="#1a1a1a" stroke-width="0.7"/>
<line x1="466.42" y1="279.80" x2="466.42" y2="280.62" stroke="#1a1a1a" stroke-width="0.7"/>
<line x1="469.08" y1="279.80" x2="469.08" y2="280.91" stroke="#1a1a1a" stroke-width="0.7"/>
<line x1="472.69" y1="279.80" x2="472.69" y2="280.96" stroke="#1a1a1a" stroke-width="0.7"/>
<line x1="475.79" y1="279.80" x2="475.79" y2="280.95" stroke="#1a1a1a" stroke-width="0.7"/>
<line x1="478.95" y1="279.80" x2="478.95" y2="280.92" stroke="#1a1a1a" stroke-width="0.7"/>
<line x1="481.14" y1="279.80" x2="481.14" y2="282.99" stroke="#1a1a1a" stroke-width="0.7"/>
<line x1="483.54" y1="279.80" x2="483.54" y2="282.65" stroke="#1a1a1a" stroke-width="0.7"/>
<line x1="485.53" y1="279.80" x2="485.53" y2="281.49" stroke="#1a1a1a" stroke-width="0.7"/>
<line x1="486.85" y1="279.80" x2="486.85" y2="281.44" stroke="#1a1a1a" stroke-width="0.7"/>
<line x1="487.95" y1="279.80" x2="487.95" y2="282.49" stroke="#1a1a1a" stroke-width="0.7"/>
<line x1="489.51" y1="279.80" x2="489.51" y2="282.66" stroke="#1a1a1a" stroke-width="0.7"/>
<line x1="491.05" y1="279.80" x2="491.05" y2="282.91" stroke="#1a1a1a" stroke-width="0.7"/>
<line x1="493.23" y1="279.80" x2="493.23" y2="280.80" stroke="#1a1a1a" stroke-width="0.7"/>
<line x1="494.53" y1="279.80" x2="494.53" y2="282.80" stroke="#1a1a1a" stroke-width="0.7"/>
<line x1="496.19" y1="279.80" x2="496.19" y2="282.96" stroke="#1a1a1a" stroke-width="0.7"/>
<line x1="497.74" y1="279.80" x2="497.74" y2="280.96" stroke="#1a1a1a" stroke-width="0.7"/>
<line x1="499.62" y1="279.80" x2="499.62" y2="282.51" stroke="#1a1a1a" stroke-width="0.7"/>
<line x1="501.00" y1="279.80" x2="501.00" y2="280.99" stroke="#1a1a1a" stroke-width="0.7"/>
<line x1="502.47" y1="279.80" x2="502.47" y2="282.92" stroke="#1a1a1a" stroke-width="0.7"/>
<line x1="504.53" y1="279.80" x2="504.53" y2="281.06" stroke="#1a1a1a" stroke-width="0.7"/>
<line x1="505.87" y1="279.80" x2="505.87" y2="281.02" stroke="#1a1a1a" stroke-width="0.7"/>
<line x1="506.96" y1="279.80" x2="506.96" y2="282.55" stroke="#1a1a1a" stroke-width="0.7"/>
<line x1="508.21" y1="279.80" x2="508.21" y2="282.03" stroke="#1a1a1a" stroke-width="0.7"/>
<line x1="509.83" y1="279.80" x2="509.83" y2="281.22" stroke="#1a1a1a" stroke-width="0.7"/>
<line x1="511.86" y1="279.80" x2="511.86" y2="281.09" stroke="#1a1a1a" stroke-width="0.7"/>
<line x1="513.76" y1="279.80" x2="513.76" y2="281.06" stroke="#1a1a1a" stroke-width="0.7"/>
<line x1="515.35" y1="279.80" x2="515.35" y2="281.27" stroke="#1a1a1a" stroke-width="0.7"/>
<line x1="516.72" y1="279.80" x2="516.72" y2="282.94" stroke="#1a1a1a" stroke-width="0.7"/>
<line x1="518.85" y1="279.80" x2="518.85" y2="281.47" stroke="#1a1a1a" stroke-width="0.7"/>
<line x1="521.09" y1="279.80" x2="521.09" y2="281.26" stroke="#1a1a1a" stroke-width="0.7"/>
<line x1="522.64" y1="279.80" x2="522.64" y2="282.68" stroke="#1a1a1a" stroke-width="0.7"/>
<line x1="524.54" y1="279.80" x2="524.54" y2="281.02" stroke="#1a1a1a" stroke-width="0.7"/>
<line x1="526.92" y1="279.80" x2="526.92" y2="281.27" stroke="#1a1a1a" stroke-width="0.7"/>
<line x1="528.29" y1="279.80" x2="528.29" y2="282.50" stroke="#1a1a1a" stroke-width="0.7"/>
<line x1="529.75" y1="279.80" x2="529.75" y2="281.45" stroke="#1a1a1a" stroke-width="0.7"/>
<line x1="530.85" y1="279.80" x2="530.85" y2="281.00" stroke="#1a1a1a" stroke-width="0.7"/>
<line x1="532.66" y1="279.80" x2="532.66" y2="281.33" stroke="#1a1a1a" stroke-width="0.7"/>
<line x1="534.51" y1="279.80" x2="534.51" y2="281.62" stroke="#1a1a1a" stroke-width="0.7"/>
<line x1="536.14" y1="279.80" x2="536.14" y2="284.68" stroke="#1a1a1a" stroke-width="0.7"/>
<line x1="537.57" y1="279.80" x2="537.57" y2="283.52" stroke="#1a1a1a" stroke-width="0.7"/>
<line x1="539.43" y1="279.80" x2="539.43" y2="282.35" stroke="#1a1a1a" stroke-width="0.7"/>
<line x1="540.50" y1="279.80" x2="540.50" y2="284.53" stroke="#1a1a1a" stroke-width="0.7"/>
<line x1="542.30" y1="279.80" x2="542.30" y2="282.55" stroke="#1a1a1a" stroke-width="0.7"/>
<line x1="543.40" y1="279.80" x2="543.40" y2="284.02" stroke="#1a1a1a" stroke-width="0.7"/>
<line x1="545.34" y1="279.80" x2="545.34" y2="282.39" stroke="#1a1a1a" stroke-width="0.7"/>
<line x1="547.28" y1="279.80" x2="547.28" y2="284.45" stroke="#1a1a1a" stroke-width="0.7"/>
<line x1="548.85" y1="279.80" x2="548.85" y2="283.06" stroke="#1a1a1a" stroke-width="0.7"/>
<line x1="549.86" y1="279.80" x2="549.86" y2="281.92" stroke="#1a1a1a" stroke-width="0.7"/>
<line x1="551.82" y1="279.80" x2="551.82" y2="282.52" stroke="#1a1a1a" stroke-width="0.7"/>
<line x1="553.50" y1="279.80" x2="553.50" y2="282.57" stroke="#1a1a1a" stroke-width="0.7"/>
<line x1="555.30" y1="279.80" x2="555.30" y2="283.59" stroke="#1a1a1a" stroke-width="0.7"/>
<line x1="556.52" y1="279.80" x2="556.52" y2="282.33" stroke="#1a1a1a" stroke-width="0.7"/>
<line x1="558.22" y1="279.80" x2="558.22" y2="282.01" stroke="#1a1a1a" stroke-width="0.7"/>
<line x1="559.37" y1="279.80" x2="559.37" y2="283.48" stroke="#1a1a1a" stroke-width="0.7"/>
<line x1="561.21" y1="279.80" x2="561.21" y2="283.64" stroke="#1a1a1a" stroke-width="0.7"/>
<line x1="562.41" y1="279.80" x2="562.41" y2="284.55" stroke="#1a1a1a" stroke-width="0.7"/>
<line x1="563.54" y1="279.80" x2="563.54" y2="281.85" stroke="#1a1a1a" stroke-width="0.7"/>
<line x1="564.73" y1="279.80" x2="564.73" y2="283.14" stroke="#1a1a1a" stroke-width="0.7"/>
<line x1="565.70" y1="279.80" x2="565.70" y2="282.33" stroke="#1a1a1a" stroke-width="0.7"/>
<line x1="567.01" y1="279.80" x2="567.01" y2="283.52" stroke="#1a1a1a" stroke-width="0.7"/>
<line x1="568.05" y1="279.80" x2="568.05" y2="282.89" stroke="#1a1a1a" stroke-width="0.7"/>
<line x1="569.93" y1="279.80" x2="569.93" y2="284.74" stroke="#1a1a1a" stroke-width="0.7"/>
<line x1="571.55" y1="279.80" x2="571.55" y2="283.87" stroke="#1a1a1a" stroke-width="0.7"/>
<line x1="573.10" y1="279.80" x2="573.10" y2="282.22" stroke="#1a1a1a" stroke-width="0.7"/>
<line x1="574.04" y1="279.80" x2="574.04" y2="281.85" stroke="#1a1a1a" stroke-width="0.7"/>
<line x1="575.94" y1="279.80" x2="575.94" y2="283.90" stroke="#1a1a1a" stroke-width="0.7"/>
<line x1="577.90" y1="279.80" x2="577.90" y2="281.86" stroke="#1a1a1a" stroke-width="0.7"/>
<line x1="579.50" y1="279.80" x2="579.50" y2="283.25" stroke="#1a1a1a" stroke-width="0.7"/>
<line x1="581.20" y1="279.80" x2="581.20" y2="282.76" stroke="#1a1a1a" stroke-width="0.7"/>
<line x1="583.20" y1="279.80" x2="583.20" y2="282.03" stroke="#1a1a1a" stroke-width="0.7"/>
<line x1="584.70" y1="279.80" x2="584.70" y2="284.01" stroke="#1a1a1a" stroke-width="0.7"/>
<line x1="586.59" y1="279.80" x2="586.59" y2="284.01" stroke="#1a1a1a" stroke-width="0.7"/>
<line x1="588.26" y1="279.80" x2="588.26" y2="281.39" stroke="#1a1a1a" stroke-width="0.7"/>
<line x1="591.59" y1="279.80" x2="591.59" y2="280.95" stroke="#1a1a1a" stroke-width="0.7"/>
<line x1="594.46" y1="279.80" x2="594.46" y2="281.50" stroke="#1a1a1a" stroke-width="0.7"/>
<line x1="597.71" y1="279.80" x2="597.71" y2="281.02" stroke="#1a1a1a" stroke-width="0.7"/>
<line x1="600.79" y1="279.80" x2="600.79" y2="281.46" stroke="#1a1a1a" stroke-width="0.7"/>
<line x1="603.43" y1="279.80" x2="603.43" y2="281.22" stroke="#1a1a1a" stroke-width="0.7"/>
<line x1="605.70" y1="279.80" x2="605.70" y2="281.18" stroke="#1a1a1a" stroke-width="0.7"/>
<line x1="563.60" y1="279.80" x2="563.60" y2="288.80" stroke="#1a1a1a" stroke-width="0.7"/>
<line x1="582.60" y1="279.80" x2="582.60" y2="289.00" stroke="#1a1a1a" stroke-width="0.7"/>
<line x1="584.90" y1="279.80" x2="584.90" y2="287.30" stroke="#1a1a1a" stroke-width="0.7"/>
<line x1="586.70" y1="279.80" x2="586.70" y2="286.30" stroke="#1a1a1a" stroke-width="0.7"/>
<line x1="577.20" y1="279.80" x2="577.20" y2="285.30" stroke="#1a1a1a" stroke-width="0.7"/>
<line x1="579.00" y1="279.80" x2="579.00" y2="285.30" stroke="#1a1a1a" stroke-width="0.7"/>
<line x1="567.30" y1="279.80" x2="567.30" y2="285.60" stroke="#1a1a1a" stroke-width="0.7"/>
<line x1="546.70" y1="279.80" x2="546.70" y2="284.30" stroke="#1a1a1a" stroke-width="0.7"/>
<line x1="559.30" y1="279.80" x2="559.30" y2="284.60" stroke="#1a1a1a" stroke-width="0.7"/>
<line x1="587.40" y1="279.80" x2="587.40" y2="282.80" stroke="#1a1a1a" stroke-width="0.7"/>
<line x1="609.30" y1="279.80" x2="609.30" y2="284.42" stroke="#1a1a1a" stroke-width="0.7"/>
<line x1="610.30" y1="279.80" x2="610.30" y2="285.26" stroke="#1a1a1a" stroke-width="0.7"/>
<line x1="611.30" y1="279.80" x2="611.30" y2="285.79" stroke="#1a1a1a" stroke-width="0.7"/>
<line x1="612.30" y1="279.80" x2="612.30" y2="285.62" stroke="#1a1a1a" stroke-width="0.7"/>
<line x1="613.30" y1="279.80" x2="613.30" y2="285.39" stroke="#1a1a1a" stroke-width="0.7"/>
<rect x="424.60" y="279.80" width="201.25" height="169.20" fill="none" stroke="#999" stroke-width="1.3"/>
<line x1="424.50" y1="279.80" x2="424.50" y2="449.60" stroke="#3a3a3a" stroke-width="1.0"/>
<line x1="570.20" y1="416.80" x2="586.90" y2="416.80" stroke="#55ee55" stroke-width="1.4"/>
<text x="594.50" y="420.00" font-family="Liberation Sans" font-size="9.0" text-anchor="start" font-weight="normal" font-style="normal" fill="#222" stroke="#222" stroke-width="0.216">1−year</text>
<line x1="570.20" y1="427.50" x2="586.90" y2="427.50" stroke="#3333ff" stroke-width="1.4"/>
<text x="594.50" y="430.70" font-family="Liberation Sans" font-size="9.0" text-anchor="start" font-weight="normal" font-style="normal" fill="#222" stroke="#222" stroke-width="0.216">3−year</text>
<line x1="570.20" y1="438.30" x2="586.90" y2="438.30" stroke="#ff3333" stroke-width="1.4"/>
<text x="594.50" y="441.50" font-family="Liberation Sans" font-size="9.0" text-anchor="start" font-weight="normal" font-style="normal" fill="#222" stroke="#222" stroke-width="0.216">5−year</text>
</svg>
</body></html>
